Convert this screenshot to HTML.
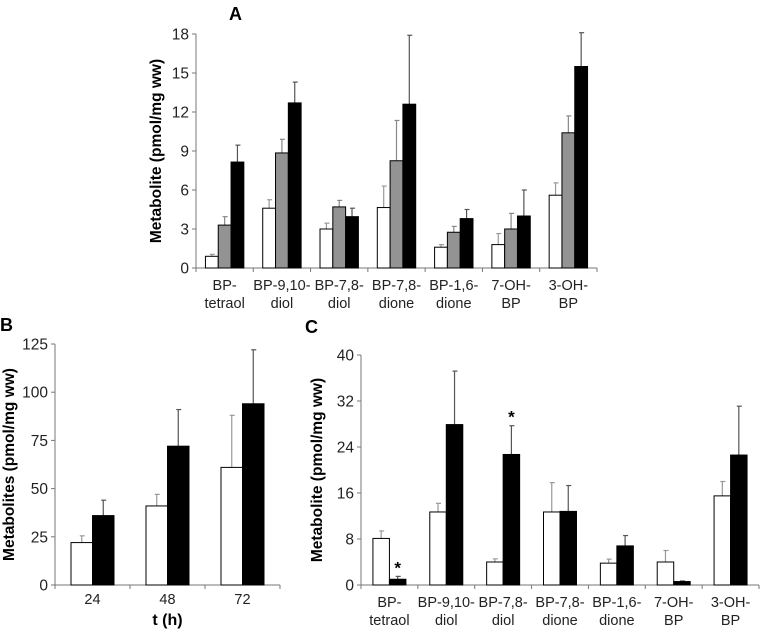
<!DOCTYPE html>
<html><head><meta charset="utf-8"><style>
body{margin:0;background:#fff;font-family:"Liberation Sans",sans-serif}
svg text{font-family:"Liberation Sans",sans-serif}
</style></head><body>
<svg id="s" width="760" height="629">
<text x="229" y="20" font-size="18" font-weight="bold">A</text>
<text x="0" y="331" font-size="18" font-weight="bold">B</text>
<text x="305" y="333" font-size="18" font-weight="bold">C</text>
</svg>
<script>
const catsAC = [["BP-","tetraol"],["BP-9,10-","diol"],["BP-7,8-","diol"],["BP-7,8-","dione"],["BP-1,6-","dione"],["7-OH-","BP"],["3-OH-","BP"]];
const aWhite = [0.9,4.6,3.0,4.65,1.6,1.8,5.6];
const aWhiteErr = [0.15,0.65,0.45,1.65,0.2,0.85,0.95];
const aGray = [3.3,8.85,4.7,8.25,2.75,3.0,10.4];
const aGrayErr = [0.65,1.05,0.5,3.1,0.45,1.2,1.3];
const aBlack = [8.15,12.7,3.95,12.6,3.8,4.0,15.5];
const aBlackErr = [1.3,1.6,0.65,5.3,0.7,2.0,2.6];
const aTicks = [0,3,6,9,12,15,18];
const bCats = [["24"],["48"],["72"]];
const bWhite = [22,41,61];
const bWhiteErr = [3.5,6,27];
const bBlack = [36,72,94];
const bBlackErr = [8,19,28];
const bTicks = [0,25,50,75,100,125];
const cWhite = [8.1,12.7,4.0,12.7,3.8,4.0,15.5];
const cWhiteErr = [1.3,1.5,0.55,5.1,0.7,2.0,2.5];
const cBlack = [1.0,27.9,22.7,12.8,6.8,0.6,22.6];
const cBlackErr = [0.5,9.3,5.0,4.5,1.8,0.1,8.5];
const cStars = [1,0,1,0,0,0,0];
const cTicks = [0,8,16,24,32,40];

const svg=document.getElementById('s');
const NS='http://www.w3.org/2000/svg';
function mk(tag,at,parent){const e=document.createElementNS(NS,tag);for(const k in at)e.setAttribute(k,at[k]);(parent||svg).appendChild(e);return e;}

function panel(p){
  const g=mk('g',{});
  
  
  const n=p.cats.length, gw=(p.x1-p.x0)/n;
  const y=v=>p.y0-(v/p.max)*(p.y0-p.yTop);
  const ya=mk('line',{x1:p.x0,y1:p.yTop,x2:p.x0,y2:p.y0,stroke:'#777','stroke-width':1},g);
  
  const xa=mk('line',{x1:p.x0,y1:p.y0,x2:p.x1,y2:p.y0,stroke:'#777','stroke-width':1},g);
  
  p.ticks.forEach(t=>{
    mk('line',{x1:p.x0-4,x2:p.x0,y1:y(t),y2:y(t),stroke:'#777'},g);
    const tx=mk('text',{x:p.x0-7,y:y(t)+5.5,'font-size':15.5,'text-anchor':'end',fill:'#222'},g);
    tx.textContent=t;
    
  });
  for(let i=0;i<=n;i++){mk('line',{x1:p.x0+i*gw,x2:p.x0+i*gw,y1:p.y0,y2:p.y0+4,stroke:'#777'},g);}
  p.cats.forEach((c,i)=>{
    c.forEach((l,j)=>{
      const tx=mk('text',{x:p.x0+(i+0.5)*gw,y:p.y0+p.labOff+j*18,'font-size':14.5,'text-anchor':'middle',fill:'#222'},g);
      tx.textContent=l;
      
    });
  });
  const nb=p.series.length, bw=p.bw, off=(gw-nb*bw)/2;
  p.series.forEach((s,k)=>{
    s.vals.forEach((v,i)=>{
      const bx=p.x0+i*gw+off+k*bw;
      const eb=mk('line',{x1:bx+bw/2,x2:bx+bw/2,y1:y(v),y2:y(v+s.err[i]),stroke:s.ec,'stroke-width':1.2},g);
      
      mk('line',{x1:bx+bw/2-2,x2:bx+bw/2+3,y1:y(v+s.err[i]),y2:y(v+s.err[i]),stroke:s.ec,'stroke-width':1.2},g);
      const r=mk('rect',{x:bx,y:y(v),width:bw,height:p.y0-y(v),fill:s.fill,stroke:'#000','stroke-width':1},g);
      
      if(s.stars&&s.stars[i]){
        const st=mk('text',{x:bx+bw/2,y:y(v+s.err[i])-3,'font-size':17,'font-weight':'bold','text-anchor':'middle'},g);
        st.textContent='*';
      }
    });
  });
  const yt=mk('text',{x:0,y:0,'font-size':15.5,'font-weight':'bold','text-anchor':'middle',transform:`translate(${p.titleX},${(p.yTop+p.y0)/2}) rotate(-90)`},g);
  yt.textContent=p.ytitle;
  if(p.xtitle){const xt=mk('text',{x:(p.x0+p.x1)/2,y:p.y0+40,'font-size':16,'font-weight':'bold','text-anchor':'middle'},g);
    xt.textContent=p.xtitle;}
}
panel({name:'panel-a-chart',cats:catsAC,labOff:22,x0:196,x1:597,y0:268,yTop:34,max:18,ticks:aTicks,bw:12.8,titleX:161,ytitle:'Metabolite (pmol/mg ww)',
  series:[{id:'white',vals:aWhite,err:aWhiteErr,fill:'#fff',ec:'#999'},{id:'gray',vals:aGray,err:aGrayErr,fill:'#939393',ec:'#888'},{id:'black',vals:aBlack,err:aBlackErr,fill:'#000',ec:'#555'}]});
panel({name:'panel-b-chart',cats:bCats,labOff:19,x0:55,x1:280,y0:585,yTop:344,max:125,ticks:bTicks,bw:21.5,titleX:14,ytitle:'Metabolites (pmol/mg ww)',xtitle:'t (h)',
  series:[{id:'white',vals:bWhite,err:bWhiteErr,fill:'#fff',ec:'#999'},{id:'black',vals:bBlack,err:bBlackErr,fill:'#000',ec:'#555'}]});
panel({name:'panel-c-chart',cats:catsAC,labOff:22,x0:361,x1:759,y0:585,yTop:355,max:40,ticks:cTicks,bw:16.5,titleX:322,ytitle:'Metabolite (pmol/mg ww)',
  series:[{id:'white',vals:cWhite,err:cWhiteErr,fill:'#fff',ec:'#999'},{id:'black',vals:cBlack,err:cBlackErr,fill:'#000',ec:'#555',stars:cStars}]});
</script>
</body></html>
